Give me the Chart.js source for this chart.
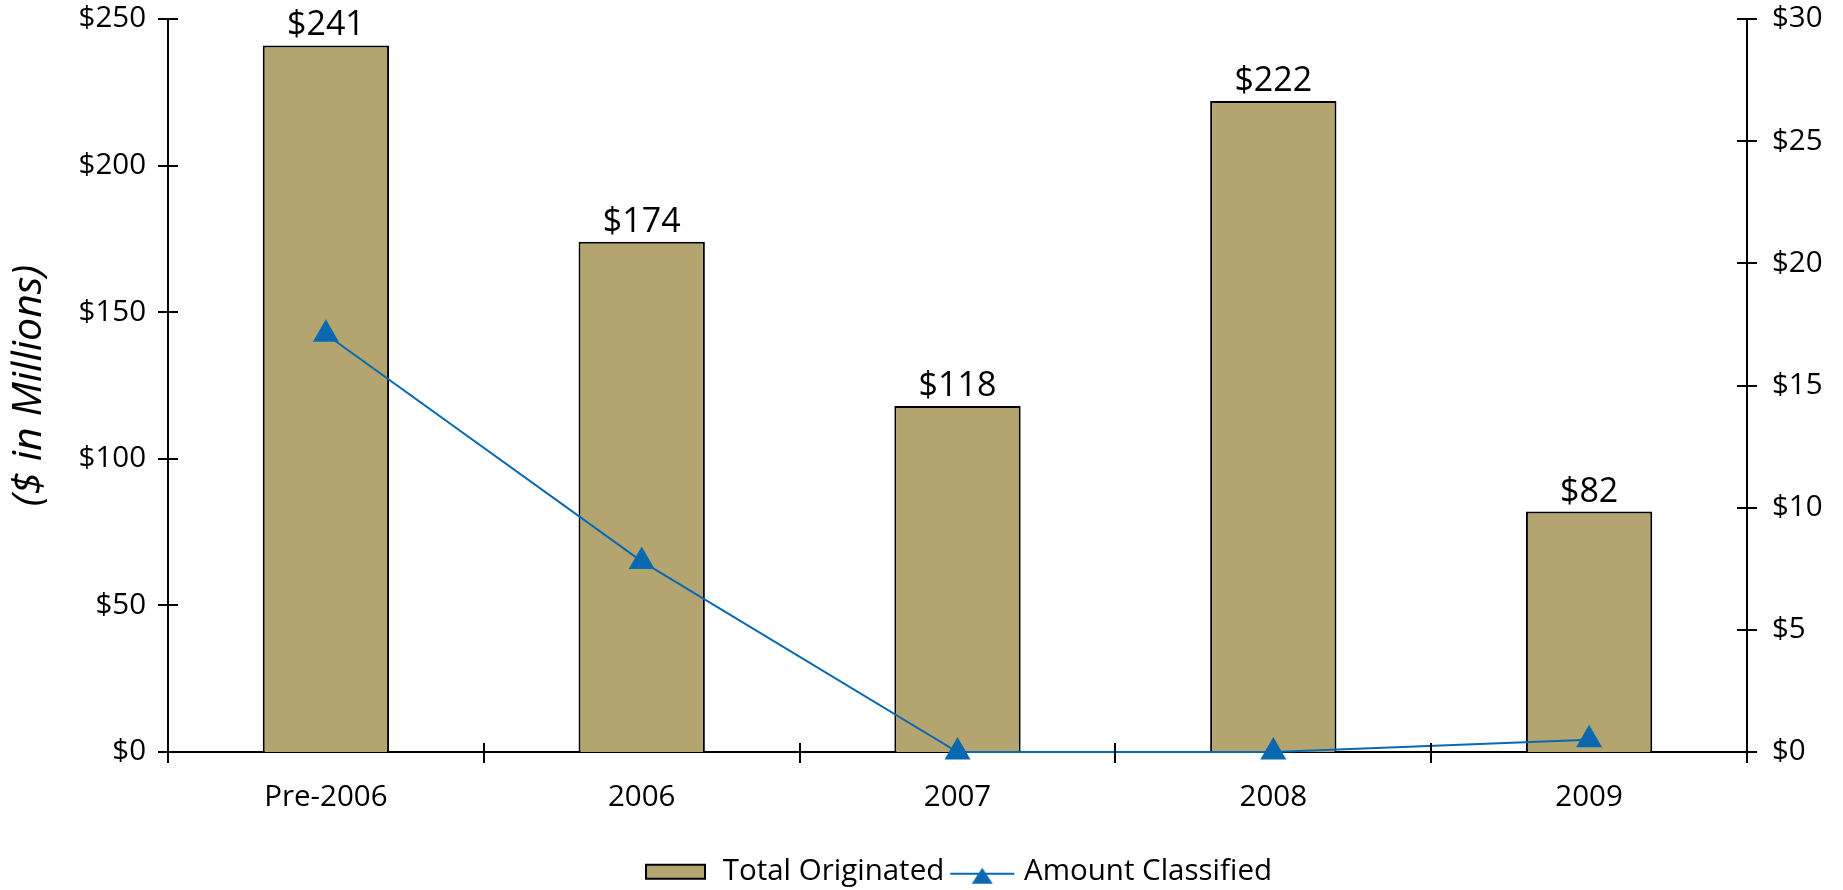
<!DOCTYPE html>
<html>
<head>
<meta charset="utf-8">
<script src="https://cdn.jsdelivr.net/npm/chart.js@4.4.1/dist/chart.umd.min.js"></script>
<style>
  html, body { margin: 0; padding: 0; background: #fff; }
  #wrap { width: 1843px; height: 890px; }
</style>
</head>
<body>
<div id="wrap"><canvas id="chart" width="1843" height="890"></canvas></div>
<script>
// --- data ---
const categories = ['Pre-2006', '2006', '2007', '2008', '2009'];
const totalOriginated = [241, 174, 118, 222, 82];
const amountClassified = [17.1, 7.8, 0, 0, 0.5];
const leftTicks = [0, 50, 100, 150, 200, 250];
const rightTicks = [0, 5, 10, 15, 20, 25, 30];

const FONT = 'Open Sans';
const BAR_COLOR = '#B4A470';
const LINE_COLOR = '#0A68B0';
const LEGEND_H = 33;

// legend swatches (drawn a bit wider than the legend slot so they sit close to the text)
function barSwatch() {
    const c = document.createElement('canvas');
    c.width = 85; c.height = 30;
    const g = c.getContext('2d');
    g.fillStyle = BAR_COLOR;
    g.fillRect(12, 7, 61, 16);
    g.strokeStyle = '#000';
    g.lineWidth = 2;
    g.strokeRect(13, 8, 59, 14);
    return c;
}
function lineSwatch() {
    const c = document.createElement('canvas');
    c.width = 85; c.height = 30;
    const g = c.getContext('2d');
    g.strokeStyle = LINE_COLOR;
    g.lineWidth = 2;
    g.beginPath(); g.moveTo(16, 17); g.lineTo(80, 17); g.stroke();
    g.fillStyle = LINE_COLOR;
    g.beginPath(); g.moveTo(48, 11); g.lineTo(58.5, 27); g.lineTo(37.5, 27); g.closePath(); g.fill();
    return c;
}
const swatches = [barSwatch(), lineSwatch()];

// cross tick marks on all axes + value labels above bars
const decorations = {
    id: 'decorations',
    afterDatasetsDraw(chart) {
        const ctx = chart.ctx;
        const meta = chart.getDatasetMeta(0);
        ctx.save();
        ctx.fillStyle = '#000';
        ctx.font = '34px "' + FONT + '"';
        ctx.textAlign = 'center';
        ctx.textBaseline = 'alphabetic';
        meta.data.forEach((bar, i) => {
            ctx.fillText('$' + totalOriginated[i], bar.x, bar.y - 10);
        });
        ctx.restore();
    },
    afterDraw(chart) {
        const ctx = chart.ctx;
        const { y, y1, x } = chart.scales;
        ctx.save();
        ctx.strokeStyle = '#000';
        ctx.lineWidth = 2;
        ctx.beginPath();
        leftTicks.forEach(v => {
            const py = Math.round(y.getPixelForValue(v));
            ctx.moveTo(y.right - 10, py); ctx.lineTo(y.right + 10, py);
        });
        rightTicks.forEach(v => {
            const py = Math.round(y1.getPixelForValue(v));
            ctx.moveTo(y1.left - 10, py); ctx.lineTo(y1.left + 10, py);
        });
        const step = (x.right - x.left) / categories.length;
        for (let i = 0; i <= categories.length; i++) {
            const px = Math.round(x.left + i * step);
            ctx.moveTo(px, x.top - 9); ctx.lineTo(px, x.top + 11);
        }
        ctx.stroke();
        ctx.restore();
    }
};

new Chart(document.getElementById('chart'), {
    data: {
        labels: categories,
        datasets: [
            {
                type: 'bar',
                label: 'Total Originated',
                data: totalOriginated,
                yAxisID: 'y',
                backgroundColor: BAR_COLOR,
                borderColor: '#000',
                borderWidth: 2,
                categoryPercentage: 0.8,
                barPercentage: 0.5,
                order: 2
            },
            {
                type: 'line',
                label: 'Amount Classified',
                data: amountClassified,
                yAxisID: 'y1',
                borderColor: LINE_COLOR,
                backgroundColor: LINE_COLOR,
                borderWidth: 2,
                pointStyle: 'triangle',
                pointRadius: 15,
                pointBorderWidth: 0,
                tension: 0,
                clip: false,
                order: 1
            }
        ]
    },
    options: {
        responsive: false,
        animation: false,
        devicePixelRatio: 1,
        layout: { padding: { top: 19, left: 0, right: 0, bottom: 0 } },
        plugins: {
            tooltip: { enabled: false },
            legend: {
                position: 'bottom',
                fullSize: false,
                maxHeight: LEGEND_H,
                labels: {
                    usePointStyle: true,
                    pointStyleWidth: 65,
                    padding: 0,
                    color: '#000',
                    font: { family: FONT, size: 29.5 },
                    sort: (a, b) => a.datasetIndex - b.datasetIndex,
                    generateLabels(chart) {
                        const items = Chart.defaults.plugins.legend.labels.generateLabels(chart);
                        items.forEach(it => { it.pointStyle = swatches[it.datasetIndex]; });
                        return items;
                    }
                }
            }
        },
        scales: {
            x: {
                afterFit(scale) { scale.height = 890 - 752 - LEGEND_H; },
                grid: { display: false, drawTicks: false, offset: true },
                border: { display: true, color: '#000', width: 2 },
                ticks: { color: '#000', font: { family: FONT, size: 29.5 }, padding: 28, maxRotation: 0 }
            },
            y: {
                position: 'left',
                min: 0, max: 250,
                afterBuildTicks(scale) { scale.ticks = leftTicks.map(v => ({ value: v })); },
                afterFit(scale) { scale.width = 168; scale.paddingTop = 0; scale.paddingBottom = 0; },
                grid: { display: false, drawTicks: false },
                border: { display: true, color: '#000', width: 2 },
                ticks: {
                    color: '#000', font: { family: FONT, size: 29.5 }, padding: 22,
                    callback: v => '$' + v
                },
                title: {
                    display: true,
                    text: '($ in Millions)',
                    color: '#000',
                    font: { family: FONT, size: 41, style: 'italic' },
                    padding: { top: 5, bottom: 0 }
                }
            },
            y1: {
                position: 'right',
                min: 0, max: 30,
                afterBuildTicks(scale) { scale.ticks = rightTicks.map(v => ({ value: v })); },
                afterFit(scale) { scale.width = 96; scale.paddingTop = 0; scale.paddingBottom = 0; },
                grid: { display: false, drawTicks: false },
                border: { display: true, color: '#000', width: 2 },
                ticks: {
                    color: '#000', font: { family: FONT, size: 29.5 }, padding: 25,
                    callback: v => '$' + v
                }
            }
        }
    },
    plugins: [decorations]
});
</script>
</body>
</html>
